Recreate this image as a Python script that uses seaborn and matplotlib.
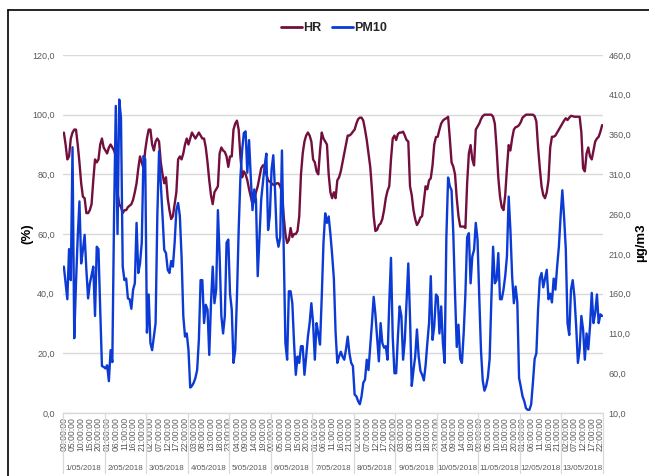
import numpy as np
import pandas as pd
import matplotlib
matplotlib.use("Agg")
import matplotlib.pyplot as plt
from matplotlib.lines import Line2D
from matplotlib.ticker import FuncFormatter, FixedLocator
import seaborn as sns

# Hourly series, 1/05/2018 00:00 to 13/05/2018 23:00
dates = ["1/05/2018", "2/05/2018", "3/05/2018", "4/05/2018", "5/05/2018",
         "6/05/2018", "7/05/2018", "8/05/2018", "9/05/2018", "10/05/2018",
         "11/05/2018", "12/05/2018", "13/05/2018"]

# Relative humidity (%)
hr = [
    94, 90, 85, 86, 92, 94, 95, 95, 90, 84, 77, 72.5, 72, 67, 67, 68, 70, 78, 85, 84, 85, 90, 92, 89,
    88, 87, 89, 90, 89, 88, 86, 74, 70, 69, 67, 68, 68, 69, 69.5, 70, 71.5, 74, 77, 82, 86, 84, 82, 88,
    92, 95, 95, 90, 88, 91, 92, 91, 84, 80, 77, 79, 72, 68, 65, 66, 70, 74, 85, 86, 85, 87, 90, 92,
    90, 92, 94, 93, 92, 93, 94, 93, 92, 92, 89, 84, 78, 73, 70, 74, 75, 76, 87, 89, 88, 87.5, 86, 82.5,
    86, 86, 95, 97, 98, 95, 86, 79, 81, 80, 78, 75, 72.5, 70, 71, 74, 76, 79, 82, 83, 83, 80, 78, 77.5,
    77, 76.5, 76.5, 77, 77, 76, 74, 66, 60, 57, 58, 62, 59, 60, 60, 61, 66, 80, 87, 91, 93, 94, 93, 91,
    85, 84, 81, 80, 88, 94, 92, 91, 90, 80, 74, 72, 74, 72, 78, 79, 81, 84, 87, 90, 93, 93, 93.5, 94.3,
    95, 97, 98.5, 99, 99, 98, 95, 91.5, 87, 82.6, 75, 66, 61, 61.4, 63, 63.5, 65, 68, 72, 74.5, 76, 85, 92, 93,
    91.5, 93.5, 94, 94, 94.3, 93, 91.5, 91, 76, 73, 68, 65, 63, 64, 65.5, 66, 71, 76, 75, 78, 78.7, 83, 90, 92.5,
    92.6, 95, 97, 98, 98.5, 98.8, 99.3, 92, 84, 82.6, 80, 72, 66, 62.5, 62.5, 62.5, 62, 77, 87, 89.8, 85, 83, 95, 96,
    97, 98.5, 99.5, 100, 100, 100, 100, 100, 99.3, 97, 89, 79, 72.5, 69, 68, 73, 82, 89.8, 88, 92, 95, 95.8, 96, 96.5,
    97.5, 99, 99.5, 100, 100, 100, 100, 100, 99.5, 97.7, 89, 82, 76, 73, 72, 74, 78, 89, 92.6, 92.6, 93, 94, 95, 96,
    97, 98, 98.8, 98.2, 99, 99.6, 99.5, 99.3, 99.3, 99.3, 99.3, 94, 82, 81, 87, 89, 86, 85, 88, 91, 92, 92.6, 94.3, 96.5,
]

# PM10 concentration (µg/m3)
pm10 = [
    194, 173, 153, 216, 177, 344, 104, 173, 231, 276, 198, 215, 234, 190, 154, 173, 183, 194, 132, 219, 216, 140, 69, 68,
    66, 70, 50, 89, 74, 258, 396, 235, 404, 381, 194, 177, 179, 154, 153, 141, 165, 173, 249, 186, 198, 224, 333, 329,
    111, 159, 98, 89, 106, 123, 258, 339, 299, 258, 215, 211, 190, 186, 201, 194, 224, 265, 274, 258, 207, 132, 106, 110,
    89, 42, 44, 48, 54, 64, 102, 177, 177, 123, 146, 140, 83, 148, 194, 148, 165, 265, 207, 132, 110, 132, 224, 228,
    160, 140, 73, 89, 156, 240, 306, 340, 362, 364, 312, 353, 306, 265, 291, 278, 182, 231, 278, 299, 321, 336, 240, 258,
    316, 334, 290, 231, 219, 231, 340, 216, 98, 77, 163, 163, 148, 98, 58, 81, 73, 94, 94, 58, 81, 106, 123, 148,
    123, 77, 123, 110, 96, 156, 224, 261, 249, 257, 235, 209, 179, 111, 73, 81, 87, 81, 77, 90, 106, 85, 73, 69,
    33, 31, 25, 21, 31, 48, 52, 77, 64, 94, 123, 156, 134, 104, 75, 123, 98, 92, 94, 77, 148, 205, 106, 60,
    60, 106, 144, 132, 77, 102, 149, 198, 130, 44, 64, 81, 115, 81, 63, 58, 51, 70, 98, 123, 182, 102, 119, 159,
    156, 110, 144, 98, 73, 231, 306, 295, 290, 236, 160, 93, 121, 78, 73, 110, 160, 231, 236, 173, 207, 215, 249, 228,
    156, 89, 51, 38, 44, 55, 78, 153, 219, 173, 177, 211, 153, 153, 165, 182, 207, 282, 240, 182, 148, 169, 149, 54,
    43, 31, 25, 16, 14, 14, 21, 48, 78, 85, 141, 179, 186, 168, 179, 190, 153, 160, 149, 179, 165, 194, 219, 257,
    290, 257, 216, 123, 108, 165, 177, 156, 119, 73, 90, 132, 115, 77, 110, 90, 119, 161, 123, 136, 159, 123, 134, 132,
]

# axis scales
hr_ticks = [0, 20, 40, 60, 80, 100, 120]
pm_ticks = [10, 60, 110, 160, 210, 260, 310, 360, 410, 460]

timestamps = pd.date_range("2018-05-01 00:00", periods=len(hr), freq="h")
df = pd.DataFrame({"pos": np.arange(len(hr)), "HR": hr, "PM10": pm10, "time": timestamps})

HR_COLOR = "#730f3d"
PM_COLOR = "#0b3bd4"
GRID = "#d9d9d9"
TXT = "#595959"

sns.set_theme(style="white")
plt.rcParams["font.family"] = ["Liberation Sans", "DejaVu Sans"]

W, H = 649, 476
fig = plt.figure(figsize=(W / 100, H / 100), dpi=100)
ax = fig.add_axes([63 / W, 1 - 413 / H, 540 / W, 358 / H])
ax2 = ax.twinx()

sns.lineplot(data=df, x="pos", y="HR", ax=ax, color=HR_COLOR, lw=1.7, legend=False)
sns.lineplot(data=df, x="pos", y="PM10", ax=ax2, color=PM_COLOR, lw=1.7, legend=False)

n = len(df)
ax.set_xlim(-0.5, n - 0.5)
ax.set_ylim(hr_ticks[0], hr_ticks[-1])
ax2.set_ylim(pm_ticks[0], pm_ticks[-1])

comma = FuncFormatter(lambda v, p: f"{v:.1f}".replace(".", ","))
ax.yaxis.set_major_locator(FixedLocator(hr_ticks))
ax.yaxis.set_major_formatter(comma)
ax2.yaxis.set_major_locator(FixedLocator(pm_ticks))
ax2.yaxis.set_major_formatter(comma)

ax.yaxis.grid(True, color=GRID, lw=1)
ax.xaxis.grid(False)
ax2.grid(False)
ax.set_axisbelow(True)
for a in (ax, ax2):
    for s in a.spines.values():
        s.set_visible(False)
ax.spines["bottom"].set_visible(True)
ax.spines["bottom"].set_color(GRID)
ax.spines["bottom"].set_linewidth(1)

ax.tick_params(axis="y", length=0, pad=6, labelsize=6.5, labelcolor=TXT)
ax2.tick_params(axis="y", length=0, pad=4, labelsize=6.5, labelcolor=TXT)

# hour labels every 5 hours
tick_pos = df["pos"].values[::5]
tick_lab = df["time"].dt.strftime("%H:%M:%S").values[::5]
ax.xaxis.set_major_locator(FixedLocator(tick_pos))
ax.set_xticklabels(tick_lab, rotation=90, fontsize=6.2, color=TXT)
ax.tick_params(axis="x", length=0, pad=3)

ax.set_xlabel("")
ax.set_ylabel("(%)", fontsize=9.5, fontweight="bold", color="black")
ax.yaxis.set_label_coords((27 - 63) / 540, (413 - 234) / 358)
ax2.set_ylabel("µg/m3", fontsize=9.5, fontweight="bold", color="black", rotation=90)
ax2.yaxis.set_label_coords((641 - 63) / 540, (413 - 243) / 358)
ax2.yaxis.label.set_va("center")
ax.yaxis.label.set_va("center")

# day group labels and separators below the hour labels
trans = ax.get_xaxis_transform()
for d, lab in enumerate(dates):
    ax.text(d * 24 + 11.5, -0.155, lab, transform=trans, ha="center", va="center",
            fontsize=5.8, color=TXT, clip_on=False)
for d in range(len(dates) + 1):
    ax.add_line(Line2D([d * 24 - 0.5] * 2, [0, -0.168], transform=trans, color=GRID,
                       lw=0.9, clip_on=False))

# legend at the top
handles = [Line2D([], [], color=HR_COLOR, lw=2), Line2D([], [], color=PM_COLOR, lw=2)]
fig.legend(handles, ["HR", "PM10"], loc="center", bbox_to_anchor=(334 / W, 1 - 28 / H),
           ncol=2, frameon=False, handlelength=1.7, handletextpad=0.1, columnspacing=0.8,
           prop={"weight": "bold", "size": 9})

# frame edges
fig.add_artist(Line2D([8 / W, 8 / W], [0, 1 - 10 / H], transform=fig.transFigure, color="black", lw=1.2))
fig.add_artist(Line2D([8 / W, 1], [1 - 10 / H, 1 - 10 / H], transform=fig.transFigure, color="black", lw=1.2))

fig.savefig("out.png", dpi=100)
